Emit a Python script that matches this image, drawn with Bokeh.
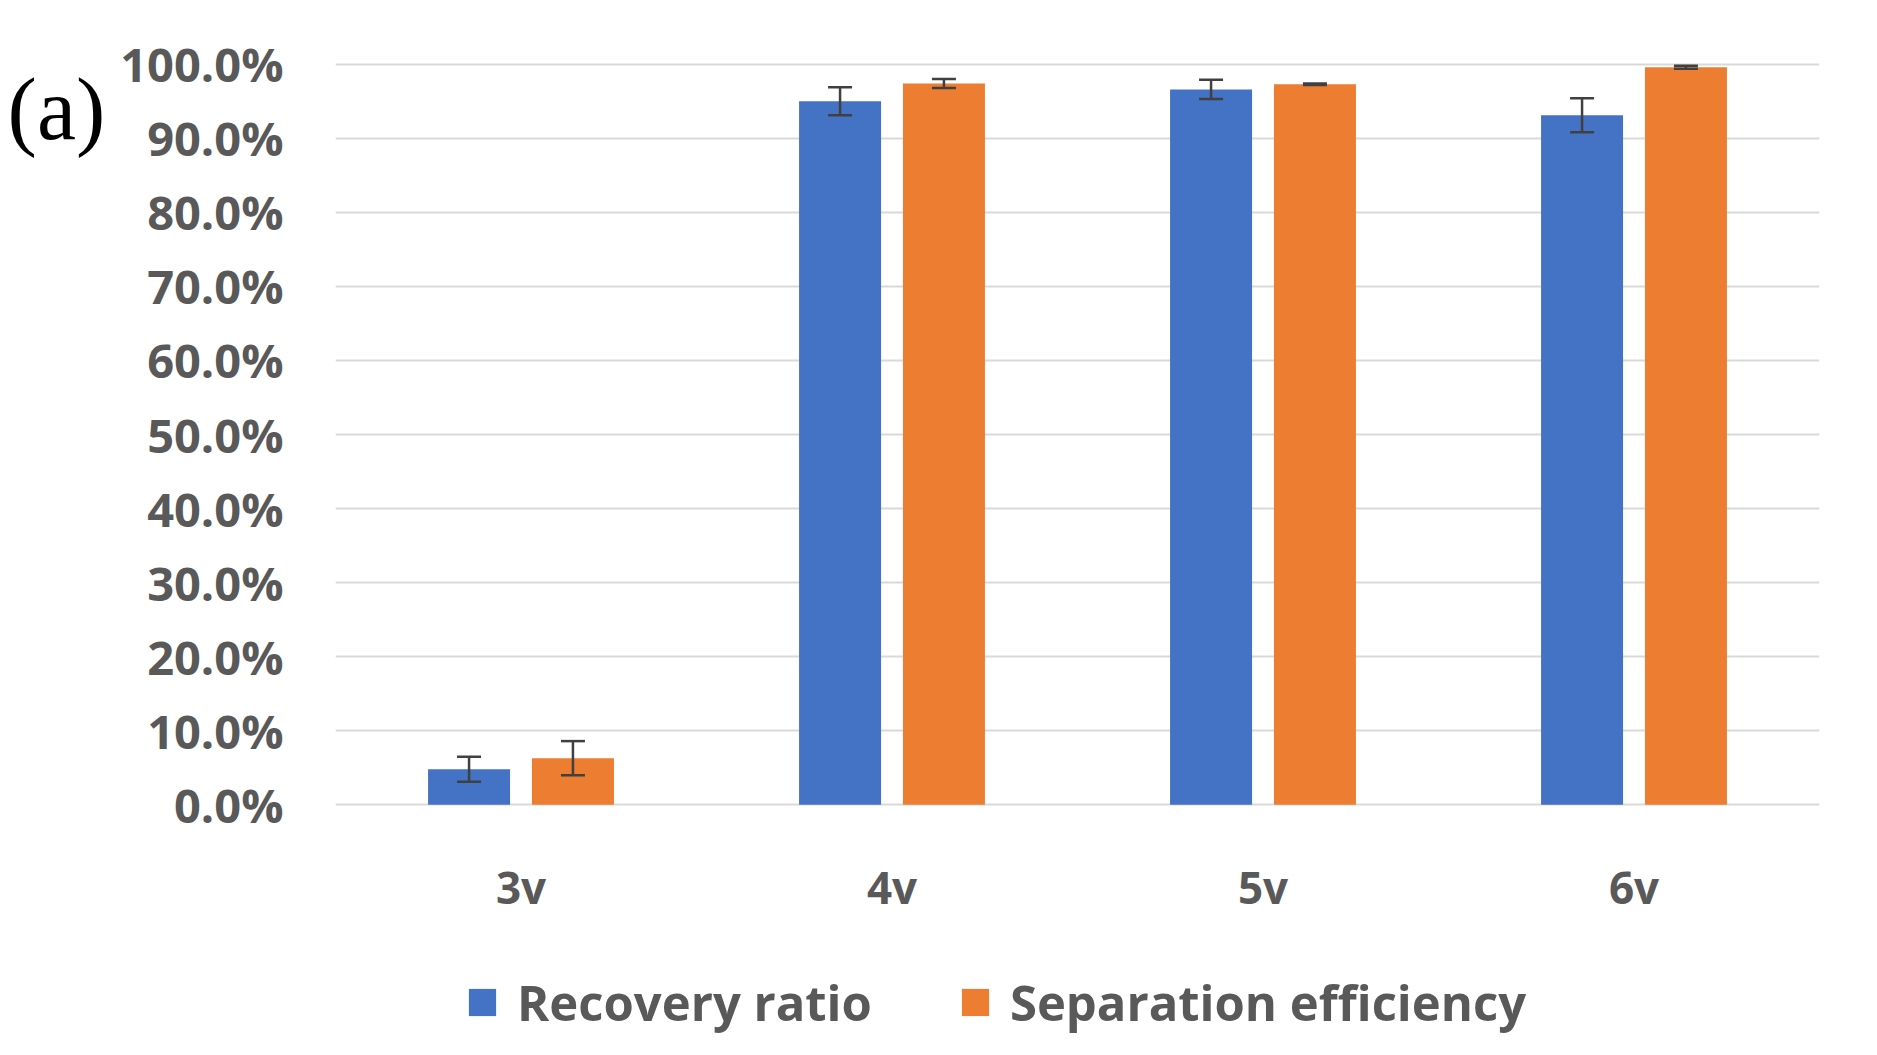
from bokeh.plotting import figure
from bokeh.layouts import column
from bokeh.models import (ColumnDataSource, FactorRange, Range1d, NumeralTickFormatter,
                          FixedTicker, Whisker, TeeHead, Legend, LegendItem)
from bokeh.transform import dodge
from bokeh.embed import file_html
from bokeh.resources import INLINE

categories = ["3v", "4v", "5v", "6v"]
recovery = [0.048, 0.950, 0.966, 0.931]
recovery_err = [0.017, 0.019, 0.013, 0.023]
separation = [0.063, 0.974, 0.973, 0.996]
separation_err = [0.023, 0.006, 0.001, 0.002]
y_ticks = [0.0, 0.1, 0.2, 0.3, 0.4, 0.5, 0.6, 0.7, 0.8, 0.9, 1.0]
series_names = ["Recovery ratio", "Separation efficiency"]
panel_tag = "(a)"

BLUE = "#4472C4"
ORANGE = "#ED7D31"
GREY = "#595959"

src = ColumnDataSource(dict(
    cat=categories,
    rec=recovery,
    rec_lo=[v - e for v, e in zip(recovery, recovery_err)],
    rec_hi=[v + e for v, e in zip(recovery, recovery_err)],
    sep=separation,
    sep_lo=[v - e for v, e in zip(separation, separation_err)],
    sep_hi=[v + e for v, e in zip(separation, separation_err)],
))

W = 1861
H1, H2 = 950, 89
p = figure(width=W, height=H1, output_backend="svg", toolbar_location=None,
           x_range=FactorRange(factors=categories, range_padding=0),
           y_range=Range1d(-0.005, 1.005),
           min_border_left=335, min_border_right=42,
           min_border_top=60, min_border_bottom=142)
p.outline_line_color = None
p.background_fill_color = "white"
p.border_fill_color = "white"

off = 0.14
bw = 0.221
r1 = p.vbar(x=dodge("cat", -off, range=p.x_range), top="rec", width=bw, bottom=0,
            source=src, fill_color=BLUE, line_color=None)
r2 = p.vbar(x=dodge("cat", off, range=p.x_range), top="sep", width=bw, bottom=0,
            source=src, fill_color=ORANGE, line_color=None)

for base, lo, hi in [(-off, "rec_lo", "rec_hi"), (off, "sep_lo", "sep_hi")]:
    w = Whisker(base=dodge("cat", base, range=p.x_range), lower=lo, upper=hi, source=src,
                line_color="#404040", line_width=2.5, level="overlay",
                upper_head=TeeHead(size=24, line_color="#404040", line_width=2.5),
                lower_head=TeeHead(size=24, line_color="#404040", line_width=2.5))
    p.add_layout(w)

p.yaxis.ticker = FixedTicker(ticks=y_ticks)
p.yaxis.formatter = NumeralTickFormatter(format="0.0%")
for ax in (p.xaxis, p.yaxis):
    ax.axis_line_color = None
    ax.major_tick_line_color = None
    ax.minor_tick_line_color = None
    ax.major_label_text_color = GREY
    ax.major_label_text_font = "Open Sans"
    ax.major_label_text_font_style = "bold"
p.yaxis.major_label_text_font_size = "47px"
p.yaxis.major_label_standoff = 46
p.xaxis.major_label_text_font_size = "44px"
p.xaxis.major_label_standoff = 42

p.yaxis.axis_label = "\n" + panel_tag
p.yaxis.axis_label_orientation = "horizontal"
p.yaxis.axis_label_align = "end"
p.yaxis.axis_label_text_line_height = 1.0
p.yaxis.axis_label_text_font = "Liberation Serif"
p.yaxis.axis_label_text_font_style = "normal"
p.yaxis.axis_label_text_font_size = "88px"
p.yaxis.axis_label_text_color = "black"
p.yaxis.axis_label_standoff = 12

p.xgrid.grid_line_color = None
p.ygrid.grid_line_color = "#d9d9d9"
p.ygrid.grid_line_width = 2

# legend strip: same bars drawn outside the visible y range, only the legend shows
q = figure(width=W, height=H2, output_backend="svg", toolbar_location=None,
           x_axis_type=None, y_axis_type=None,
           x_range=FactorRange(factors=categories, range_padding=0),
           y_range=Range1d(10, 11),
           min_border_left=0, min_border_right=0, min_border_top=0, min_border_bottom=0)
q.outline_line_color = None
q.background_fill_color = "white"
q.border_fill_color = "white"
d1 = q.vbar(x=dodge("cat", -off, range=q.x_range), top="rec", width=bw, bottom=0,
            source=src, fill_color=BLUE, line_color=None)
d2 = q.vbar(x=dodge("cat", off, range=q.x_range), top="sep", width=bw, bottom=0,
            source=src, fill_color=ORANGE, line_color=None)
legend = Legend(items=[LegendItem(label=series_names[0], renderers=[d1]),
                       LegendItem(label=series_names[1], renderers=[d2])],
                orientation="horizontal", location=(130, 4),
                glyph_width=34, glyph_height=34, label_standoff=18, spacing=86,
                padding=0, margin=0, border_line_color=None, background_fill_alpha=0,
                label_text_font="Open Sans", label_text_font_style="bold",
                label_text_font_size="49px", label_text_color=GREY)
q.add_layout(legend, "center")

layout = column(p, q, spacing=0)
open("out.html", "w").write(file_html(layout, INLINE))
